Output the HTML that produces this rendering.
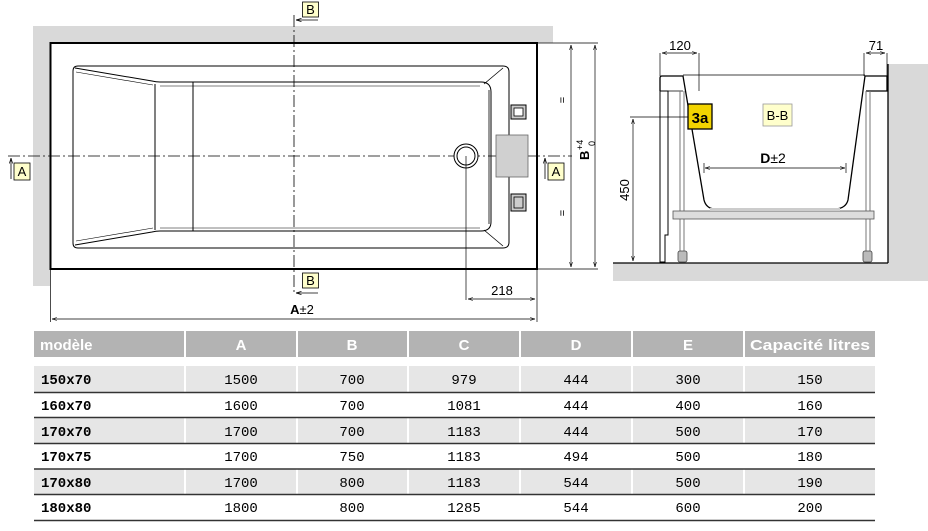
<!DOCTYPE html>
<html><head><meta charset="utf-8"><style>
body{margin:0;background:#fff;width:928px;height:531px;overflow:hidden;font-family:"Liberation Sans",sans-serif}
svg{position:absolute;left:0;top:0}
</style></head><body>
<svg width="928" height="531" viewBox="0 0 928 531" xmlns="http://www.w3.org/2000/svg" font-family="Liberation Sans, sans-serif">
<defs>
<marker id="ar" viewBox="0 0 10 10" refX="10" refY="5" markerWidth="7" markerHeight="7" orient="auto-start-reverse"><path d="M0,2 L10,5 L0,8" fill="none" stroke="#000" stroke-width="1.2"/></marker>
</defs>
<!-- plan view walls -->
<rect x="33" y="26" width="520" height="17" fill="#d9d9d9"/>
<rect x="33" y="26" width="17" height="260" fill="#d9d9d9"/>
<rect x="50.5" y="43" width="486.5" height="226" fill="#fff" stroke="#000" stroke-width="2"/>
<!-- rim -->
<path d="M78,66 L503,66 Q509,66 509,72 L509,242 Q509,248 503,248 L78,248 Q73,248 73,243 L73,71 Q73,66 78,66 Z" fill="none" stroke="#000" stroke-width="1"/>
<path d="M75,68 L152,81 Q156,82 160,82 L481,82 Q491,82 491,92 L491,222 Q491,231 481,231 L160,231 Q156,231 152,232 L75,245" fill="none" stroke="#000" stroke-width="1"/>
<path d="M76,72 L153,85 M76,241 L153,228" fill="none" stroke="#000" stroke-width=".6"/>
<path d="M155,84 L155,230 M193,82 L193,231" stroke="#000" stroke-width="1"/>
<path d="M503,68 L484,84 M503,246 L484,230 M489,90 L489,224" stroke="#000" stroke-width=".8"/>
<line x1="160" y1="86" x2="480" y2="86" stroke="#000" stroke-width=".5"/>
<line x1="160" y1="228" x2="480" y2="228" stroke="#000" stroke-width=".5"/>
<!-- centerlines -->
<line x1="8" y1="156" x2="572" y2="156" stroke="#000" stroke-width=".8" stroke-dasharray="12,3,2,3"/>
<line x1="294" y1="15" x2="294" y2="292" stroke="#000" stroke-width=".8" stroke-dasharray="12,3,2,3"/>
<!-- drain -->
<circle cx="466" cy="156" r="12" fill="#fff" stroke="#000" stroke-width="1"/>
<circle cx="466" cy="156" r="9" fill="none" stroke="#000" stroke-width="1"/>
<line x1="466" y1="156" x2="466" y2="300" stroke="#000" stroke-width=".7"/>
<rect x="496" y="135" width="32" height="42" fill="#d0d0d0" stroke="#666" stroke-width=".8"/>
<rect x="511" y="105" width="15" height="14" fill="#ccc" stroke="#000" stroke-width="1"/>
<rect x="514" y="108" width="9" height="8" fill="#fff" stroke="#000" stroke-width=".8"/>
<rect x="511" y="194" width="15" height="17" fill="#ccc" stroke="#000" stroke-width="1"/>
<rect x="514" y="197" width="9" height="11" fill="#ccc" stroke="#000" stroke-width=".8"/>
<!-- section labels -->
<g font-size="13" text-anchor="middle">
<rect x="302.5" y="2" width="16" height="15" fill="#ffffcc" stroke="#000" stroke-width=".8"/><text x="310.5" y="14">B</text>
<path d="M318,20 L296,20" stroke="#000" stroke-width=".8" marker-end="url(#ar)"/>
<rect x="302.5" y="273" width="16" height="15" fill="#ffffcc" stroke="#000" stroke-width=".8"/><text x="310.5" y="285">B</text>
<path d="M318,293 L296,293" stroke="#000" stroke-width=".8" marker-end="url(#ar)"/>
<rect x="14" y="163" width="16" height="17" fill="#ffffcc" stroke="#000" stroke-width=".8"/><text x="22" y="176">A</text>
<path d="M11,179 L11,158" stroke="#000" stroke-width=".8" marker-end="url(#ar)"/>
<rect x="548" y="163" width="16" height="17" fill="#ffffcc" stroke="#000" stroke-width=".8"/><text x="556" y="176">A</text>
<path d="M545,179 L545,158" stroke="#000" stroke-width=".8" marker-end="url(#ar)"/>
</g>
<!-- B dimension -->
<path d="M537,43 L598,43 M537,269 L598,269" stroke="#000" stroke-width=".7"/>
<path d="M571,45 L571,267" stroke="#000" stroke-width=".7" marker-start="url(#ar)" marker-end="url(#ar)"/>
<path d="M595,45 L595,267" stroke="#000" stroke-width=".7" marker-start="url(#ar)" marker-end="url(#ar)"/>
<text x="562" y="104" font-size="11" text-anchor="middle" transform="rotate(-90 562 100)">=</text>
<text x="562" y="217" font-size="11" text-anchor="middle" transform="rotate(-90 562 213)">=</text>
<g transform="translate(589,160) rotate(-90)"><text x="0" y="0" font-size="13" font-weight="bold">B</text><text x="10" y="-6" font-size="9">+4</text><text x="14" y="6" font-size="9">0</text></g>
<!-- 218 / A dims -->
<path d="M468,299 L535,299" stroke="#000" stroke-width=".7" marker-start="url(#ar)" marker-end="url(#ar)"/>
<text x="502" y="295" font-size="13" text-anchor="middle">218</text>
<path d="M50.5,269 L50.5,322 M537,269 L537,322" stroke="#000" stroke-width=".7"/>
<path d="M52,319 L535,319" stroke="#000" stroke-width=".7" marker-start="url(#ar)" marker-end="url(#ar)"/>
<text x="302" y="314" font-size="13" text-anchor="middle"><tspan font-weight="bold">A</tspan>±2</text>
<!-- section view -->
<rect x="888" y="64" width="40" height="200" fill="#d9d9d9"/>
<rect x="613" y="263" width="315" height="18" fill="#d9d9d9"/>
<line x1="613" y1="263" x2="888" y2="263" stroke="#000" stroke-width="1.3"/>
<line x1="888" y1="64" x2="888" y2="263" stroke="#000" stroke-width="1.3"/>
<path d="M660,53 L660,76 M699,53 L699,104 M864,53 L864,76 M887,53 L887,76" stroke="#000" stroke-width=".7"/>
<path d="M662,53 L697,53" stroke="#000" stroke-width=".7" marker-start="url(#ar)" marker-end="url(#ar)"/>
<text x="680" y="50" font-size="13" text-anchor="middle">120</text>
<path d="M866,53 L885,53" stroke="#000" stroke-width=".7" marker-start="url(#ar)" marker-end="url(#ar)"/>
<text x="876" y="50" font-size="13" text-anchor="middle">71</text>
<line x1="683" y1="75" x2="865" y2="75" stroke="#000" stroke-width=".8"/>
<path d="M660,91 L660,78 Q660,76 662,76 L683,76 L704,200 Q706,208 714,209 L836,209 Q846,208 848,200 L865,76 L887,76 L887,91 L866,91" fill="#fff" stroke="#000" stroke-width="1.3"/>
<path d="M662,91 L683,91 M866,91 L886,91" stroke="#000" stroke-width=".8"/>
<path d="M660,91 L668,91 L668,235 L665,235 L665,262 L660,262 Z" fill="#fff" stroke="#000" stroke-width="1"/>
<path d="M680,91 L680,252 M684,91 L684,252 M866,91 L866,252 M870,91 L870,252" stroke="#777" stroke-width="1"/>
<rect x="673" y="211" width="201" height="8" fill="#ddd" stroke="#555" stroke-width=".8"/>
<rect x="710" y="208" width="130" height="3" fill="#ccc"/>
<rect x="678" y="251" width="9" height="11" rx="2" fill="#bbb" stroke="#444" stroke-width=".8"/>
<rect x="863" y="251" width="9" height="11" rx="2" fill="#bbb" stroke="#444" stroke-width=".8"/>
<path d="M630,117 L690,117" stroke="#000" stroke-width=".7"/>
<path d="M633,119 L633,261" stroke="#000" stroke-width=".7" marker-start="url(#ar)" marker-end="url(#ar)"/>
<text x="629" y="190" font-size="13" text-anchor="middle" transform="rotate(-90 629 190)">450</text>
<rect x="688" y="104" width="24" height="25" fill="#f2d400" stroke="#000" stroke-width="1.3"/>
<text x="700" y="123" font-size="15" font-weight="bold" text-anchor="middle">3a</text>
<rect x="763" y="104" width="29" height="22" fill="#ffffcc" stroke="#999" stroke-width=".8"/>
<text x="777.5" y="120" font-size="13" text-anchor="middle">B-B</text>
<path d="M705,168 L845,168" stroke="#000" stroke-width=".7" marker-start="url(#ar)" marker-end="url(#ar)"/>
<path d="M704,163 L704,173 M846,163 L846,173" stroke="#000" stroke-width=".7"/>
<text x="773" y="163" font-size="14" text-anchor="middle"><tspan font-weight="bold">D</tspan>±2</text>
<!-- table -->
<g fill="#b3b3b3">
<rect x="34" y="331" width="150" height="26"/><rect x="186" y="331" width="110" height="26"/><rect x="298" y="331" width="109" height="26"/><rect x="409" y="331" width="110" height="26"/><rect x="521" y="331" width="110" height="26"/><rect x="633" y="331" width="110" height="26"/><rect x="745" y="331" width="130" height="26"/>
</g>
<g font-size="15" font-weight="bold" fill="#fff" text-anchor="middle" font-family="Liberation Sans Narrow, Liberation Sans, sans-serif">
<text x="40" y="350" text-anchor="start">modèle</text><text x="241" y="350">A</text><text x="352" y="350">B</text><text x="464" y="350">C</text><text x="576" y="350">D</text><text x="688" y="350">E</text><text x="810" y="350" textLength="120" lengthAdjust="spacingAndGlyphs">Capacité litres</text>
</g>
<g fill="#e6e6e6"><rect x="34" y="366" width="841" height="26"/><rect x="34" y="418" width="841" height="25"/><rect x="34" y="469" width="841" height="25"/></g>
<g stroke="#fff" stroke-width="2"><path d="M185,366 V520 M297,366 V520 M408,366 V520 M520,366 V520 M632,366 V520 M744,366 V520"/></g>
<g stroke="#333" stroke-width="1.5"><path d="M34,392.5 H875 M34,417.5 H875 M34,443.5 H875 M34,469 H875 M34,494.5 H875 M34,520.5 H875"/></g>
<g font-size="14" font-family="Liberation Mono, monospace" text-anchor="middle">
<g font-weight="bold" text-anchor="start"><text x="41" y="384">150x70</text><text x="41" y="410">160x70</text><text x="41" y="436">170x70</text><text x="41" y="461">170x75</text><text x="41" y="487">170x80</text><text x="41" y="512">180x80</text></g>
<text x="241" y="384">1500</text><text x="352" y="384">700</text><text x="464" y="384">979</text><text x="576" y="384">444</text><text x="688" y="384">300</text><text x="810" y="384">150</text>
<text x="241" y="410">1600</text><text x="352" y="410">700</text><text x="464" y="410">1081</text><text x="576" y="410">444</text><text x="688" y="410">400</text><text x="810" y="410">160</text>
<text x="241" y="436">1700</text><text x="352" y="436">700</text><text x="464" y="436">1183</text><text x="576" y="436">444</text><text x="688" y="436">500</text><text x="810" y="436">170</text>
<text x="241" y="461">1700</text><text x="352" y="461">750</text><text x="464" y="461">1183</text><text x="576" y="461">494</text><text x="688" y="461">500</text><text x="810" y="461">180</text>
<text x="241" y="487">1700</text><text x="352" y="487">800</text><text x="464" y="487">1183</text><text x="576" y="487">544</text><text x="688" y="487">500</text><text x="810" y="487">190</text>
<text x="241" y="512">1800</text><text x="352" y="512">800</text><text x="464" y="512">1285</text><text x="576" y="512">544</text><text x="688" y="512">600</text><text x="810" y="512">200</text>
</g>
</svg>
</body></html>
